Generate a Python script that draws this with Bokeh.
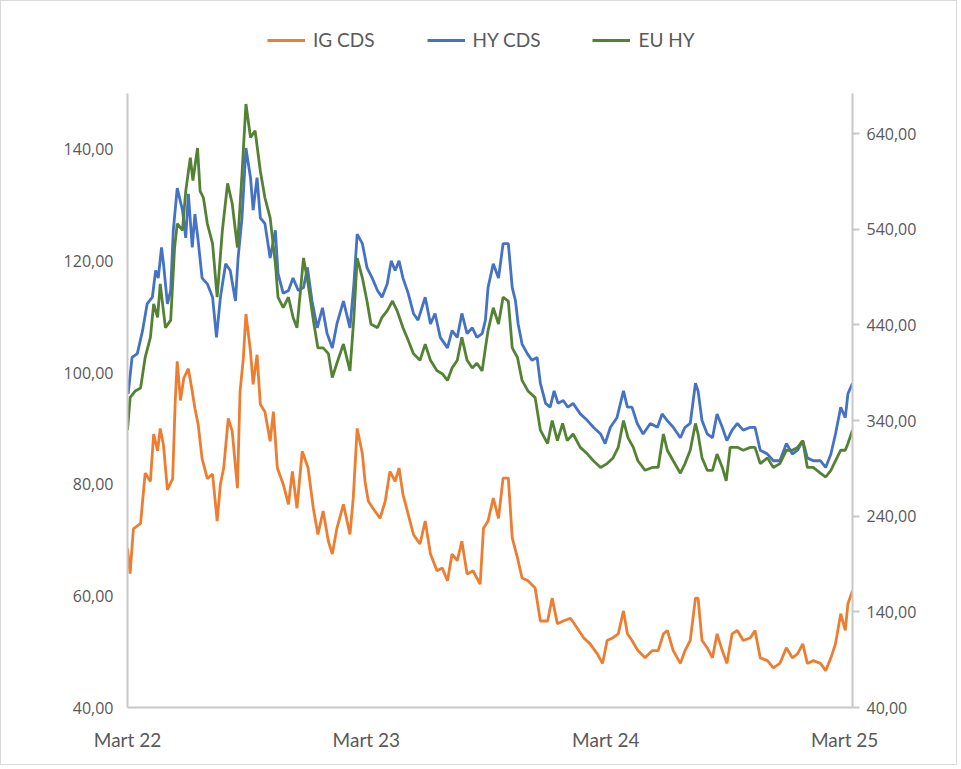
from datetime import datetime
import pandas as pd
from bokeh.plotting import figure
from bokeh.layouts import column
from bokeh.models import (Range1d, LinearAxis, FixedTicker, DatetimeTickFormatter,
                          Legend, LegendItem, ColumnDataSource)
from bokeh.embed import file_html
from bokeh.resources import INLINE

# ---------------- data ----------------
IG_DATES = ["2022-03-01","2022-03-05","2022-03-10","2022-03-21","2022-03-28","2022-04-05","2022-04-10",
"2022-04-16","2022-04-20","2022-04-25","2022-05-01","2022-05-09","2022-05-13","2022-05-16","2022-05-21",
"2022-05-26","2022-06-02","2022-06-08","2022-06-12","2022-06-17","2022-06-23","2022-07-01","2022-07-09",
"2022-07-16","2022-07-21","2022-07-26","2022-08-02","2022-08-08","2022-08-16","2022-08-20","2022-08-25",
"2022-08-29","2022-09-05","2022-09-09","2022-09-15","2022-09-20","2022-09-27","2022-10-05","2022-10-10",
"2022-10-16","2022-10-25","2022-11-02","2022-11-08","2022-11-15","2022-11-23","2022-12-02","2022-12-10",
"2022-12-17","2022-12-25","2023-01-02","2023-01-08","2023-01-15","2023-01-25","2023-02-04","2023-02-09",
"2023-02-15","2023-02-23","2023-02-27","2023-03-04","2023-03-11","2023-03-22","2023-03-30","2023-04-06",
"2023-04-14","2023-04-20","2023-04-26","2023-05-04","2023-05-12","2023-05-22","2023-05-30","2023-06-07",
"2023-06-17","2023-06-25","2023-07-03","2023-07-10","2023-07-18","2023-07-25","2023-08-02","2023-08-11",
"2023-08-22","2023-08-27","2023-09-03","2023-09-11","2023-09-19","2023-09-26","2023-10-04","2023-10-10",
"2023-10-18","2023-10-25","2023-11-03","2023-11-14","2023-11-22","2023-12-03","2023-12-10","2023-12-18",
"2023-12-27","2024-01-07","2024-01-17","2024-01-27","2024-02-06","2024-02-17","2024-02-25","2024-03-03",
"2024-03-12","2024-03-20","2024-03-28","2024-04-03","2024-04-10","2024-04-19","2024-04-30","2024-05-11",
"2024-05-20","2024-05-28","2024-06-03","2024-06-12","2024-06-23","2024-06-30","2024-07-08","2024-07-16",
"2024-07-20","2024-07-26","2024-08-03","2024-08-11","2024-08-18","2024-08-26","2024-09-02","2024-09-10",
"2024-09-18","2024-09-27","2024-10-08","2024-10-15","2024-10-23","2024-11-03","2024-11-12","2024-11-22",
"2024-12-02","2024-12-11","2024-12-19","2024-12-27","2025-01-03","2025-01-12","2025-01-23","2025-01-31",
"2025-02-08","2025-02-15","2025-02-23","2025-03-02","2025-03-06","2025-03-13"]
IG_CDS = [68.5,64.0,72.0,73.0,82.0,80.5,89.0,86.0,90.0,87.0,79.0,81.0,95.0,102.0,95.0,99.0,100.7,96.6,
93.6,90.7,84.6,81.0,81.8,73.4,80.0,82.9,91.8,89.5,79.3,96.6,102.5,110.5,103.8,97.9,103.2,94.3,93.0,87.7,
93.0,82.9,80.0,76.4,82.3,75.7,85.9,82.9,75.7,71.0,75.2,69.8,67.5,72.1,76.4,71.0,77.5,90.0,85.4,80.5,77.0,
75.7,73.9,77.0,82.3,80.5,82.9,78.2,74.6,71.0,69.3,73.4,67.5,64.5,65.0,62.7,67.5,66.3,69.8,63.9,64.5,62.1,
72.1,73.4,77.5,73.9,81.1,81.1,70.4,66.8,63.2,62.7,61.4,55.5,55.5,59.6,55.0,55.5,56.0,54.3,52.5,51.4,49.6,
47.9,52.0,52.5,53.2,57.3,53.2,52.0,50.2,48.9,50.2,50.2,53.2,53.8,50.2,47.9,50.2,52.0,59.6,59.6,52.0,50.7,
48.9,53.2,50.2,47.9,53.2,53.8,52.0,52.5,53.8,48.9,48.4,47.1,47.9,50.7,48.9,49.6,51.4,47.9,48.4,47.9,46.6,
48.9,51.4,56.8,53.8,58.6,60.9]

HY_DATES = ["2022-03-01","2022-03-02","2022-03-08","2022-03-16","2022-03-24","2022-03-31","2022-04-08",
"2022-04-13","2022-04-17","2022-04-22","2022-04-25","2022-05-01","2022-05-06","2022-05-10","2022-05-16",
"2022-05-24","2022-05-29","2022-06-02","2022-06-08","2022-06-12","2022-06-17","2022-06-23","2022-07-01",
"2022-07-09","2022-07-15","2022-07-21","2022-07-29","2022-08-05","2022-08-13","2022-08-17","2022-08-23",
"2022-08-29","2022-09-05","2022-09-09","2022-09-15","2022-09-20","2022-09-27","2022-10-05","2022-10-13",
"2022-10-17","2022-10-25","2022-11-02","2022-11-09","2022-11-17","2022-11-25","2022-12-01","2022-12-08",
"2022-12-16","2022-12-24","2022-12-31","2023-01-08","2023-01-15","2023-01-25","2023-02-04","2023-02-10",
"2023-02-15","2023-02-23","2023-03-02","2023-03-10","2023-03-18","2023-03-25","2023-04-02","2023-04-08",
"2023-04-14","2023-04-20","2023-04-26","2023-05-04","2023-05-12","2023-05-19","2023-05-30","2023-06-07",
"2023-06-14","2023-06-22","2023-07-03","2023-07-10","2023-07-18","2023-07-25","2023-08-02","2023-08-10",
"2023-08-17","2023-08-25","2023-08-30","2023-09-03","2023-09-11","2023-09-19","2023-09-26","2023-10-04",
"2023-10-10","2023-10-15","2023-10-19","2023-10-25","2023-11-02","2023-11-09","2023-11-17","2023-11-22",
"2023-11-30","2023-12-07","2023-12-13","2023-12-19","2023-12-27","2024-01-03","2024-01-11","2024-01-22",
"2024-02-02","2024-02-11","2024-02-22","2024-02-29","2024-03-08","2024-03-18","2024-03-28","2024-04-03",
"2024-04-10","2024-04-18","2024-04-27","2024-05-08","2024-05-19","2024-05-26","2024-06-03","2024-06-12",
"2024-06-23","2024-06-30","2024-07-08","2024-07-16","2024-07-20","2024-07-26","2024-08-03","2024-08-11",
"2024-08-18","2024-08-26","2024-09-02","2024-09-10","2024-09-18","2024-09-27","2024-10-08","2024-10-15",
"2024-10-23","2024-11-03","2024-11-12","2024-11-22","2024-12-02","2024-12-11","2024-12-19","2024-12-27",
"2025-01-03","2025-01-12","2025-01-23","2025-01-31","2025-02-08","2025-02-15","2025-02-23","2025-03-02",
"2025-03-06","2025-03-13"]
HY_CDS = [380,368,406,410,434,462,469,497,489,521,504,462,476,539,583,560,531,577,521,556,528,489,483,469,
427,469,504,497,465,510,552,625,594,560,594,552,546,510,539,494,473,476,489,476,479,500,465,437,458,431,
416,441,465,437,483,535,525,500,489,476,469,483,507,497,507,489,473,452,445,469,441,452,427,416,434,427,
452,431,437,427,431,445,479,504,489,525,525,479,465,441,420,410,403,406,379,358,354,371,358,361,354,358,
347,340,333,326,316,333,343,371,354,354,337,326,337,333,347,340,333,322,333,337,379,371,340,326,322,347,
333,319,330,337,330,333,333,309,305,298,298,316,305,309,319,301,298,298,291,305,326,354,343,368,379]

EU_DATES = ["2022-03-01","2022-03-05","2022-03-13","2022-03-21","2022-03-28","2022-04-05","2022-04-10",
"2022-04-16","2022-04-20","2022-04-28","2022-05-06","2022-05-12","2022-05-16","2022-05-24","2022-05-29",
"2022-06-05","2022-06-09","2022-06-16","2022-06-20","2022-06-25","2022-07-01","2022-07-09","2022-07-16",
"2022-07-24","2022-08-01","2022-08-08","2022-08-16","2022-08-23","2022-08-29","2022-09-05","2022-09-12",
"2022-09-20","2022-09-27","2022-10-05","2022-10-13","2022-10-17","2022-10-25","2022-11-02","2022-11-09",
"2022-11-15","2022-11-25","2022-12-02","2022-12-10","2022-12-17","2022-12-25","2023-01-02","2023-01-08",
"2023-01-15","2023-01-25","2023-02-04","2023-02-10","2023-02-15","2023-02-23","2023-03-02","2023-03-08",
"2023-03-18","2023-03-25","2023-04-02","2023-04-10","2023-04-17","2023-04-26","2023-05-04","2023-05-12",
"2023-05-22","2023-05-30","2023-06-07","2023-06-17","2023-06-25","2023-07-03","2023-07-10","2023-07-18",
"2023-07-25","2023-08-02","2023-08-10","2023-08-17","2023-08-25","2023-08-30","2023-09-03","2023-09-11",
"2023-09-19","2023-09-26","2023-10-04","2023-10-10","2023-10-18","2023-10-25","2023-11-03","2023-11-14",
"2023-11-22","2023-12-03","2023-12-10","2023-12-18","2023-12-26","2024-01-02","2024-01-11","2024-01-22",
"2024-02-02","2024-02-11","2024-02-22","2024-03-03","2024-03-12","2024-03-20","2024-03-28","2024-04-04",
"2024-04-12","2024-04-19","2024-04-30","2024-05-11","2024-05-20","2024-05-28","2024-06-03","2024-06-12",
"2024-06-23","2024-06-30","2024-07-08","2024-07-16","2024-07-20","2024-07-26","2024-08-03","2024-08-11",
"2024-08-18","2024-08-26","2024-09-01","2024-09-07","2024-09-18","2024-09-27","2024-10-08","2024-10-15",
"2024-10-23","2024-11-03","2024-11-12","2024-11-22","2024-12-02","2024-12-11","2024-12-19","2024-12-27",
"2025-01-03","2025-01-12","2025-01-23","2025-01-31","2025-02-08","2025-02-15","2025-02-23","2025-03-02",
"2025-03-06","2025-03-13"]
EU_HY = [330,364,371,374,406,427,462,448,483,437,445,521,546,539,580,615,591,625,580,573,546,525,469,539,
588,567,521,598,671,636,643,601,573,552,504,469,458,469,448,437,510,483,445,416,416,410,385,400,420,392,
448,510,489,465,441,437,448,455,465,455,437,424,410,403,420,403,392,389,382,395,403,427,403,395,400,392,
416,434,458,441,469,465,416,406,382,371,364,330,316,340,319,337,319,326,312,305,298,291,295,301,312,340,
322,312,298,288,291,291,326,309,298,285,295,309,337,326,301,288,288,305,291,277,312,312,309,312,312,295,
301,291,295,309,309,312,319,291,291,285,281,288,298,309,309,316,330]

LEFT_TICKS = [40, 60, 80, 100, 120, 140]
RIGHT_TICKS = [40, 140, 240, 340, 440, 540, 640]
YEAR_TICKS = ["2022-03-01", "2023-03-01", "2024-03-01", "2025-03-01"]
SERIES = ["IG CDS", "HY CDS", "EU HY"]
COLORS = ["#ED7D31", "#4472C4", "#548235"]

W = 955
LEG_H = 85
MAIN_H = 678
label_color = "#595959"
axis_color = "#C8C8C8"
LW = 2.8

# ---------------- legend strip ----------------
pl = figure(width=W, height=LEG_H, output_backend="svg", toolbar_location=None,
            x_range=Range1d(0, 1), y_range=Range1d(0, 1),
            x_axis_location=None, y_axis_location=None, min_border=0)
pl.grid.visible = False
pl.outline_line_color = None
pl.border_fill_color = "white"
# proxy renderers (outside the visible range) used only for the legend swatches
leg_renderers = [pl.line(x=[-5, -4], y=[-5, -4], color=c, line_width=LW) for c in COLORS]
legend = Legend(items=[LegendItem(label=s, renderers=[r]) for s, r in zip(SERIES, leg_renderers)],
                orientation="horizontal", location=(140, 35),
                border_line_color=None, background_fill_alpha=0,
                label_text_color=label_color, label_text_font="Lato",
                label_text_font_size="19px", glyph_width=38, glyph_height=20,
                label_standoff=8, spacing=52, padding=5)
pl.add_layout(legend, "center")

# ---------------- main chart ----------------
p = figure(width=W, height=MAIN_H, output_backend="svg", toolbar_location=None,
           x_axis_type="datetime",
           x_range=Range1d(datetime(2022, 3, 1), datetime(2025, 3, 13)),
           y_range=Range1d(40, 150),
           min_border_left=126, min_border_right=104, min_border_top=7, min_border_bottom=57)
p.extra_y_ranges = {"right": Range1d(40, 682)}
p.grid.visible = False
p.outline_line_color = None
p.background_fill_color = "white"
p.border_fill_color = "white"

src_ig = ColumnDataSource(dict(x=pd.to_datetime(IG_DATES), y=IG_CDS))
src_hy = ColumnDataSource(dict(x=pd.to_datetime(HY_DATES), y=HY_CDS))
src_eu = ColumnDataSource(dict(x=pd.to_datetime(EU_DATES), y=EU_HY))

p.line("x", "y", source=src_hy, color=COLORS[1], line_width=LW, y_range_name="right")
p.line("x", "y", source=src_eu, color=COLORS[2], line_width=LW, y_range_name="right")
p.line("x", "y", source=src_ig, color=COLORS[0], line_width=LW)

# left axis
la = p.yaxis[0]
la.ticker = FixedTicker(ticks=LEFT_TICKS)
la.major_label_overrides = {t: f"{t},00" for t in LEFT_TICKS}
la.axis_line_color = axis_color
la.axis_line_width = 2
la.major_tick_line_color = None
la.major_tick_out = 0
la.major_tick_in = 0
la.minor_tick_line_color = None
la.major_label_text_color = label_color
la.major_label_text_font = "Open Sans"
la.major_label_text_font_size = "16px"
la.major_label_standoff = 14

# right axis
ra = LinearAxis(y_range_name="right", ticker=FixedTicker(ticks=RIGHT_TICKS))
ra.major_label_overrides = {t: f"{t},00" for t in RIGHT_TICKS}
ra.axis_line_color = axis_color
ra.axis_line_width = 2
ra.major_tick_line_color = axis_color
ra.major_tick_line_width = 2
ra.major_tick_out = 7
ra.major_tick_in = 0
ra.minor_tick_line_color = None
ra.major_label_text_color = label_color
ra.major_label_text_font = "Open Sans"
ra.major_label_text_font_size = "16px"
ra.major_label_standoff = 7
p.add_layout(ra, "right")

# bottom axis
xa = p.xaxis[0]
xa.ticker = FixedTicker(ticks=[pd.Timestamp(d).value // 10**6 for d in YEAR_TICKS])
fmt = "Mart %y"
xa.formatter = DatetimeTickFormatter(years=fmt, months=fmt, days=fmt, hours=fmt, minutes=fmt,
                                     seconds=fmt, milliseconds=fmt, microseconds=fmt, hourmin=fmt,
                                     minsec=fmt)
xa.axis_line_color = axis_color
xa.axis_line_width = 2
xa.major_tick_line_color = None
xa.major_tick_out = 0
xa.major_tick_in = 0
xa.minor_tick_line_color = None
xa.major_label_text_color = label_color
xa.major_label_text_font = "Lato"
xa.major_label_text_font_size = "19px"
xa.major_label_standoff = 20

layout = column(pl, p, spacing=0)
layout.styles = {"border": "1px solid #D9D9D9"}

open("out.html", "w").write(file_html(layout, INLINE))
